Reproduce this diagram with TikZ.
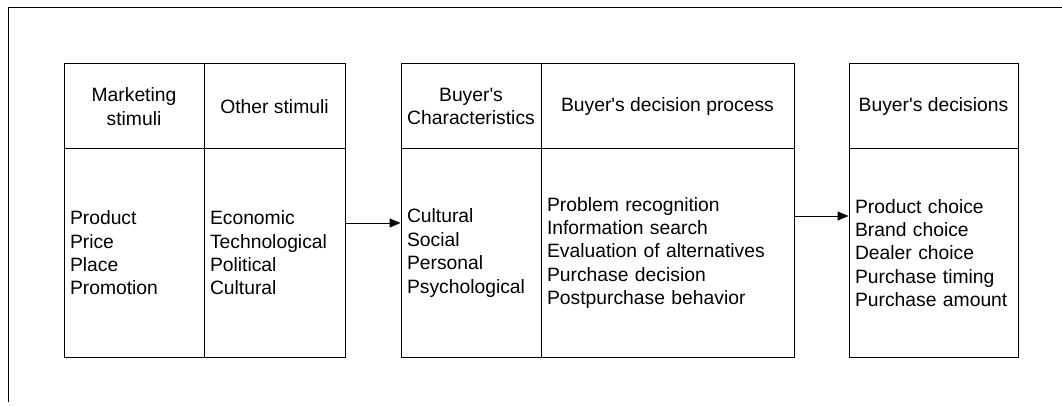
\documentclass[tikz,border=0pt]{standalone}
\usepackage{fontspec}
\setmainfont{Liberation Sans}
\usetikzlibrary{arrows.meta}
\newcommand{\apos}{\textquotesingle}
\begin{document}
\begin{tikzpicture}[x=1pt,y=-1pt,
  line width=1pt,
  every node/.style={font=\fontsize{19.3}{23.4}\selectfont},
  head/.style={draw, minimum height=85pt, inner sep=0pt, align=center},
  body/.style={draw, minimum height=208pt, inner xsep=6pt, inner ysep=0pt, align=left},
  arr/.style={-{Triangle[length=11pt,width=9pt]}}]
  \useasboundingbox (0,0) rectangle (1062,406);
  % outer frame (top and left edges)
  \draw (8,402) -- (8,8) -- (1062,8);

  % stimuli block
  \node[head, minimum width=140pt] (mkh) at (134,106.5) {Marketing\\stimuli};
  \node[head, minimum width=141pt] (oth) at (274.5,106.5) {Other stimuli};
  \node[body, text width=128pt] (mkb) at (134,253) {Product\\Price\\Place\\Promotion};
  \node[body, text width=129pt] (otb) at (274.5,253) {Economic\\Technological\\Political\\Cultural};

  % buyer's black box
  \node[head, minimum width=140pt] (chh) at (471,106.5) {Buyer\apos s\\Characteristics};
  \node[head, minimum width=253pt] (dph) at (667.5,106.5) {Buyer\apos s decision process};
  \node[body, text width=128pt] (chb) at (471,253) {Cultural\\Social\\Personal\\Psychological};
  \node[body, text width=241pt] (dpb) at (667.5,253) {Problem recognition\\Information search\\Evaluation of alternatives\\Purchase decision\\Postpurchase behavior};

  % buyer's responses
  \node[head, minimum width=169pt] (bdh) at (933.5,106.5) {Buyer\apos s decisions};
  \node[body, text width=157pt] (bdb) at (933.5,253) {Product choice\\Brand choice\\Dealer choice\\Purchase timing\\Purchase amount};

  % connectors
  \draw[arr] ([yshift=30pt]otb.east) -- ([yshift=30pt]chb.west);
  \draw[arr] ([yshift=37pt]dpb.east) -- ([yshift=37pt]bdb.west);
\end{tikzpicture}
\end{document}
